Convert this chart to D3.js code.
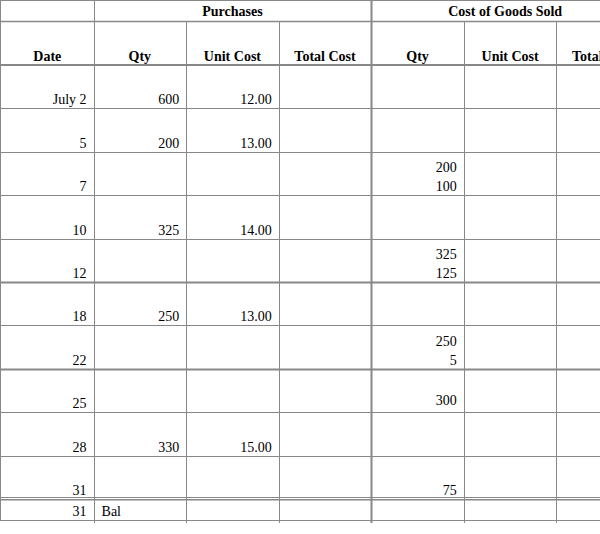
<!DOCTYPE html><html><head><meta charset="utf-8"><script src="https://cdn.jsdelivr.net/npm/d3@7"></script>
<style>body{margin:0;background:#fff}text{font-family:"Liberation Serif","DejaVu Serif",serif;font-size:14px;fill:#000}</style></head><body><svg id="s" width="600" height="534"></svg>
<script>
const dates=["July 2","5","7","10","12","18","22","25","28","31","31"];
const purQty=["600","200","","325","","250","","","330","",""];
const purCost=["12.00","13.00","","14.00","","13.00","","","15.00","",""];
const cogsQty=[[],[],["200","100"],[],["325","125"],[],["250","5"],["300"],[],["75"],[]];
const colHeads=["Date","Qty","Unit Cost","Total Cost","Qty","Unit Cost","Total Cost"];
const groups=["Purchases","Cost of Goods Sold"];
const svg=d3.select("#s");
const x=d3.scaleLinear().domain([0,7]).range([1,649]);
const rowY=d3.scaleLinear().domain([0,10]).range([65,499]);
const g="#888";
function ln(x1,y1,x2,y2,w){svg.append("line").attr("x1",x1).attr("y1",y1).attr("x2",x2).attr("y2",y2).attr("stroke",g).attr("stroke-width",w||1);}
ln(0,0.5,600,0.5);ln(0,21.5,600,21.5,1.5);ln(0,65,600,65,2);
for(let i=1;i<=10;i++){const y=Math.round(rowY(i))+0.5;const th=(i==5||i==7)?2:1;ln(0,y,600,y,th);}
ln(0,497.5,600,497.5);ln(0,500,600,500);ln(0,520.5,600,520.5);
ln(0.5,0,0.5,521);
for(let c=1;c<7;c++){const xx=Math.round(x(c))+0.5;ln(xx,c==1||c==4?0:22,xx,523,c==4?2:1);}
svg.append("text").attr("x",(x(1)+x(4))/2).attr("y",16).attr("text-anchor","middle").attr("font-weight","bold").text(groups[0]);
svg.append("text").attr("x",(x(4)+x(7))/2-5).attr("y",16).attr("text-anchor","middle").attr("font-weight","bold").text(groups[1]);
colHeads.forEach((h,i)=>svg.append("text").attr("x",(x(i)+x(i+1))/2).attr("y",61).attr("text-anchor","middle").attr("font-weight","bold").text(h));
function rt(c,y,t){svg.append("text").attr("x",x(c+1)-7).attr("y",y).attr("text-anchor","end").text(t);}
dates.forEach((d,i)=>{
 const bot=i<10?rowY(i+1):520;
 const by=bot-4;
 rt(0,by,d);
 if(purQty[i])rt(1,by,purQty[i]);
 if(purCost[i])rt(2,by,purCost[i]);
 const q=cogsQty[i];
 if(q.length==2){rt(4,by-19,q[0]);rt(4,by,q[1]);}
 else if(q.length==1){rt(4,i==7?by-3:by,q[0]);}
});
svg.append("text").attr("x",x(1)+8).attr("y",516).text("Bal");
</script></body></html>
